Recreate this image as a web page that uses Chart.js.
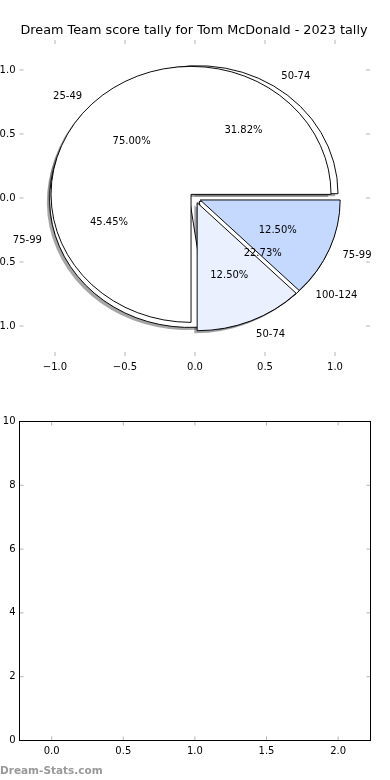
<!DOCTYPE html>
<html>
<head>
<meta charset="utf-8">
<script src="https://cdn.jsdelivr.net/npm/chart.js@4.4.1/dist/chart.umd.min.js"></script>
<style>
html,body{margin:0;padding:0;background:#fff;}
#wrap{position:relative;width:390px;height:780px;overflow:hidden;background:#fff;}
#wrap canvas{position:absolute;}
</style>
</head>
<body>
<div id="wrap">
  <canvas id="axTop" width="430" height="390" style="left:-30px;top:0px;width:430px;height:390px"></canvas>
  <canvas id="pieB" width="390" height="400" style="left:0px;top:0px;width:390px;height:400px"></canvas>
  <canvas id="pieA" width="390" height="400" style="left:0px;top:0px;width:390px;height:400px"></canvas>
  <canvas id="axBot" width="430" height="390" style="left:-30px;top:400px;width:430px;height:390px"></canvas>
</div>
<script>
// ---------------- data ----------------
const chartTitle = 'Dream Team score tally for Tom McDonald - 2023 tally';
const watermark = 'Dream-Stats.com';

const pieALabels = ['25-49', '50-74', '75-99'];
const pieAValues = [6, 1, 1];
const pieAColors = ['#ffffff', '#eaf0fe', '#c5d8fd'];
const pieAExplode = [0.04, 0.04, 0.04];

const pieBLabels = ['50-74', '75-99', '100-124'];
const pieBValues = [7, 10, 5];
const pieBColors = ['#ffffff', '#ffffff', '#ffffff'];
const pieBExplode = [0.04, 0.04, 0.04];

const pieXRange = [-1.2536, 1.25];
const pieYRange = [-1.234, 1.234];
const pieTickStep = 0.5;

const barXRange = [-0.2249, 2.2263];
const barYRange = [0, 10];
const barXTickStep = 0.5;
const barYTickStep = 2;

// ---------------- helpers ----------------
const SY = 128 / 140;       // vertical squash of the (non equal-aspect) pie axes
const SHADOW = 0.02;        // matplotlib shadow offset (fraction of radius)
const FONT = '"DejaVu Sans", "Liberation Sans", sans-serif';
const TEXT_DY = 1.5;        // matplotlib centres text on its full box (incl. descent)
const fmtPie = v => v.toFixed(1).replace('-', '\u2212');

function shadowColor(hex) {
  const h = hex.replace('#', '');
  const r = parseInt(h.substr(0, 2), 16), g = parseInt(h.substr(2, 2), 16), b = parseInt(h.substr(4, 2), 16);
  return 'rgba(' + Math.round(r * 0.3) + ',' + Math.round(g * 0.3) + ',' + Math.round(b * 0.3) + ',0.5)';
}

function drawPie(ctx, chart, explode, shadow) {
  const meta = chart.getDatasetMeta(0);
  meta.data.forEach((arc, i) => {
    const R = arc.outerRadius, cy = arc.y;
    const mid = (arc.startAngle + arc.endAngle) / 2;
    let dx = Math.cos(mid) * explode[i] * R;
    let dy = Math.sin(mid) * explode[i] * R;
    if (shadow) { dx -= SHADOW * R; dy += SHADOW * R; }
    ctx.save();
    ctx.translate(0, cy); ctx.scale(1, SY); ctx.translate(0, -cy);
    ctx.translate(dx, dy);
    const saved = arc.options;
    if (shadow) {
      arc.options = Object.assign({}, saved, { backgroundColor: shadowColor(saved.backgroundColor), borderWidth: 0 });
    }
    arc.draw(ctx);
    arc.options = saved;
    ctx.restore();
  });
}

function drawPieLabels(ctx, chart, explode) {
  const meta = chart.getDatasetMeta(0);
  const data = chart.data.datasets[0].data;
  const total = data.reduce((a, b) => a + b, 0);
  ctx.save();
  ctx.fillStyle = '#000';
  ctx.font = '10px ' + FONT;
  ctx.textBaseline = 'middle';
  meta.data.forEach((arc, i) => {
    const R = arc.outerRadius, cx = arc.x, cy = arc.y;
    const mid = (arc.startAngle + arc.endAngle) / 2;
    const ox = Math.cos(mid) * explode[i], oy = Math.sin(mid) * explode[i];
    const lx = ox + 1.1 * Math.cos(mid), ly = oy + 1.1 * Math.sin(mid);
    ctx.textAlign = lx > 0 ? 'left' : 'right';
    ctx.fillText(chart.data.labels[i], cx + lx * R, cy + ly * R * SY + TEXT_DY);
    const px = ox + 0.6 * Math.cos(mid), py = oy + 0.6 * Math.sin(mid);
    ctx.textAlign = 'center';
    ctx.fillText((data[i] / total * 100).toFixed(2) + '%', cx + px * R, cy + py * R * SY + TEXT_DY);
  });
  ctx.restore();
}

function tickMarks(frame) {
  return {
    id: 'tickMarks',
    afterDraw(chart) {
      const { ctx, chartArea: a, scales } = chart;
      const L = 4;
      ctx.save();
      ctx.strokeStyle = '#b4b4b4';
      ctx.lineWidth = 1;
      ctx.beginPath();
      scales.x.ticks.forEach(t => {
        const x = scales.x.getPixelForValue(t.value);
        ctx.moveTo(x, a.bottom); ctx.lineTo(x, a.bottom - L);
        ctx.moveTo(x, a.top); ctx.lineTo(x, a.top + L);
      });
      scales.y.ticks.forEach(t => {
        const y = scales.y.getPixelForValue(t.value);
        ctx.moveTo(a.left, y); ctx.lineTo(a.left + L, y);
        ctx.moveTo(a.right, y); ctx.lineTo(a.right - L, y);
      });
      ctx.stroke();
      if (frame) {
        ctx.strokeStyle = '#000';
        ctx.strokeRect(a.left, a.top, a.right - a.left, a.bottom - a.top);
      }
      ctx.restore();
    }
  };
}

function axisScales(xr, yr, xs, ys, xfmt, yfmt) {
  const tick = { color: '#000', font: { family: FONT, size: 10 }, autoSkip: false, maxRotation: 0, includeBounds: false };
  return {
    x: {
      type: 'linear', position: 'bottom', min: xr[0], max: xr[1],
      grid: { display: false, drawTicks: false }, border: { display: false },
      ticks: Object.assign({}, tick, { stepSize: xs, padding: 5, callback: xfmt }),
      afterFit(s) { s.height = 20; }
    },
    y: {
      type: 'linear', position: 'left', min: yr[0], max: yr[1],
      grid: { display: false, drawTicks: false }, border: { display: false },
      ticks: Object.assign({}, tick, { stepSize: ys, padding: 4, callback: yfmt }),
      afterFit(s) { s.width = 49.5; }
    }
  };
}

const common = {
  responsive: false, maintainAspectRatio: false, animation: false, devicePixelRatio: 1, events: [],
  plugins: { legend: { display: false }, tooltip: { enabled: false }, title: { display: false } }
};

// ---------------- top axes (pie frame) ----------------
new Chart(document.getElementById('axTop'), {
  type: 'scatter',
  data: { datasets: [] },
  options: Object.assign({}, common, {
    layout: { padding: { left: 0, right: 30, top: 40, bottom: 14 } },
    scales: axisScales(pieXRange, pieYRange, pieTickStep, pieTickStep, v => fmtPie(v), v => fmtPie(v))
  }),
  plugins: [tickMarks(false), {
    id: 'titleText',
    afterDraw(chart) {
      const ctx = chart.ctx;
      ctx.save();
      ctx.fillStyle = '#000';
      ctx.font = '12.8px ' + FONT;
      ctx.textAlign = 'center';
      ctx.textBaseline = 'alphabetic';
      ctx.fillText(chartTitle, 224, 34.3);
      ctx.restore();
    }
  }]
});

// ---------------- pies ----------------
function pieConfig(labels, values, colors, plugin) {
  return {
    type: 'pie',
    data: {
      labels: labels.slice().reverse(),
      datasets: [{
        data: values.slice().reverse(),
        backgroundColor: colors.slice().reverse(),
        borderColor: '#000', borderWidth: 1, borderAlign: 'center', borderJoinStyle: 'miter',
        offset: 0, hoverOffset: 0, spacing: 0
      }]
    },
    options: Object.assign({}, common, {
      radius: 140, rotation: 90,
      layout: { padding: { left: 0, right: 0, top: 0, bottom: 4 } }
    }),
    plugins: [plugin]
  };
}
const explodeAEl = pieAExplode.slice().reverse();
const explodeBEl = pieBExplode.slice().reverse();

const chartA = new Chart(document.getElementById('pieA'), pieConfig(pieALabels, pieAValues, pieAColors, {
  id: 'pieADraw',
  beforeDatasetsDraw(chart) { drawPie(chart.ctx, chart, explodeAEl, false); return false; },
  afterDraw(chart) {
    if (window.chartB) drawPieLabels(chart.ctx, window.chartB, explodeBEl);
    drawPieLabels(chart.ctx, chart, explodeAEl);
  }
}));
window.chartA = chartA;

const chartB = new Chart(document.getElementById('pieB'), pieConfig(pieBLabels, pieBValues, pieBColors, {
  id: 'pieBDraw',
  beforeDatasetsDraw(chart) {
    drawPie(chart.ctx, chart, explodeBEl, true);
    if (window.chartA) drawPie(chart.ctx, window.chartA, explodeAEl, true);
    drawPie(chart.ctx, chart, explodeBEl, false);
    return false;
  }
}));
window.chartB = chartB;
chartA.draw();

// ---------------- bottom (empty) axes ----------------
new Chart(document.getElementById('axBot'), {
  type: 'scatter',
  data: { datasets: [] },
  options: Object.assign({}, common, {
    layout: { padding: { left: 0, right: 29.5, top: 21.5, bottom: 29.5 } },
    scales: axisScales(barXRange, barYRange, barXTickStep, barYTickStep, v => v.toFixed(1), v => String(v))
  }),
  plugins: [tickMarks(true), {
    id: 'watermark',
    afterDraw(chart) {
      const ctx = chart.ctx;
      ctx.save();
      ctx.fillStyle = '#999999';
      ctx.font = 'bold 10.5px ' + FONT;
      ctx.textAlign = 'left';
      ctx.textBaseline = 'alphabetic';
      ctx.fillText(watermark, 30, 374);
      ctx.restore();
    }
  }]
});
</script>
</body>
</html>
